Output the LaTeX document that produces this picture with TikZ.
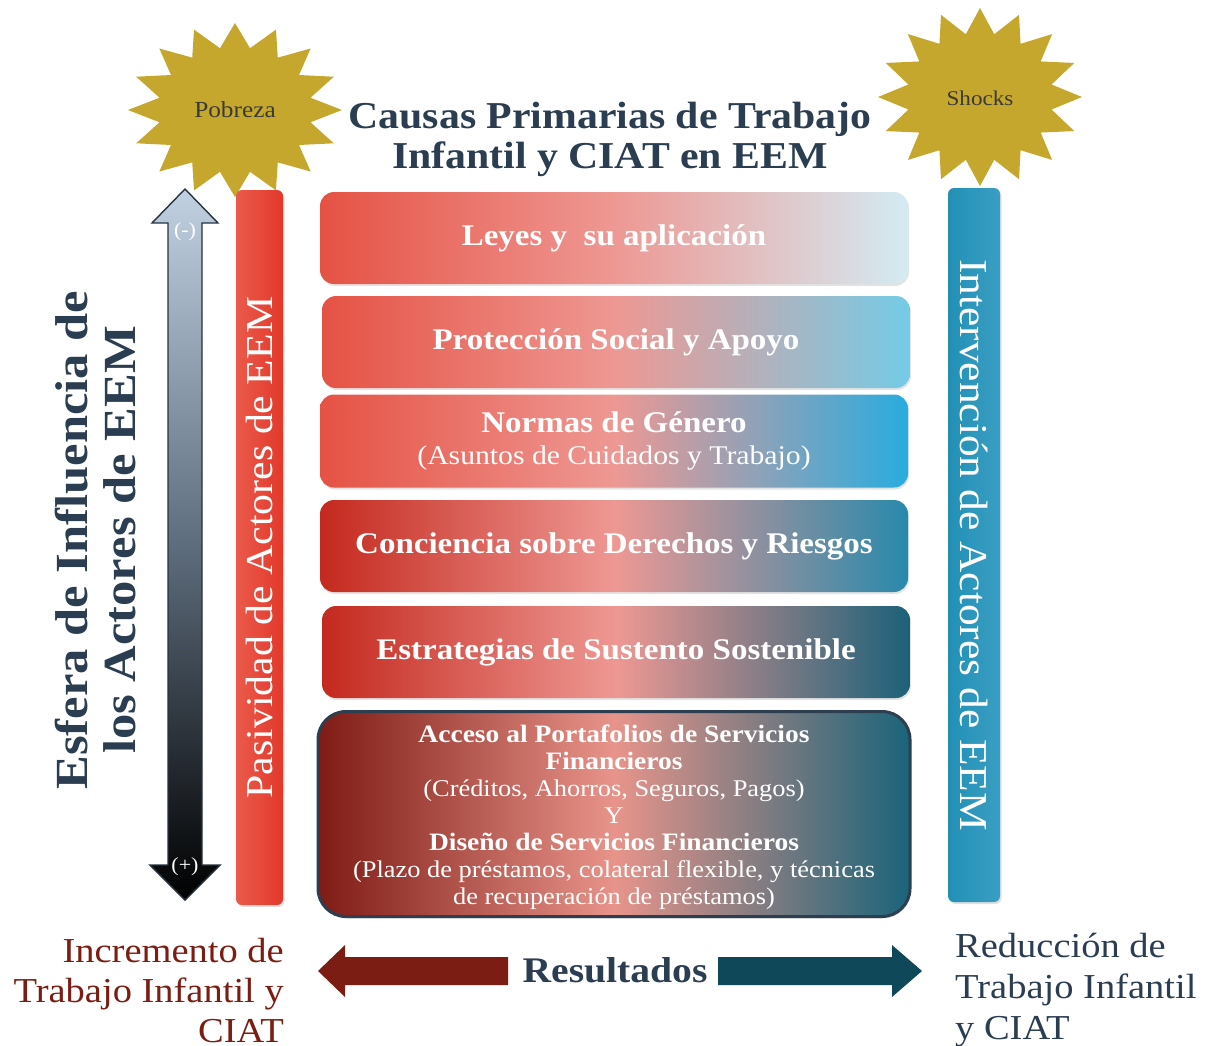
\documentclass[tikz,border=0pt]{standalone}
\usepackage{fontspec}
\setmainfont{Liberation Serif}[FakeStretch=1.1]
\usetikzlibrary{shadows}
\definecolor{gold}{HTML}{C6A72E}
\definecolor{navy}{HTML}{2B3D50}
\definecolor{startxt}{HTML}{3A3A36}
\definecolor{incred}{HTML}{7B1D12}
\definecolor{redtail}{HTML}{7B1D12}
\definecolor{bluetail}{HTML}{0F4858}
\definecolor{redA}{HTML}{E55244}
\definecolor{redB}{HTML}{C4291E}
\definecolor{redC}{HTML}{7E1B14}
\definecolor{pinkM}{HTML}{EE9893}
\definecolor{pinkM6}{HTML}{E8948A}
\definecolor{blue1}{HTML}{D3EBF3}
\definecolor{blue2}{HTML}{74CBE6}
\definecolor{blue3}{HTML}{29ACDF}
\definecolor{blue4}{HTML}{2889AC}
\definecolor{blue5}{HTML}{1C6179}
\definecolor{blue6}{HTML}{1A6479}
\definecolor{boxborder}{HTML}{2C3E50}
\definecolor{barred1}{HTML}{EA5A4B}
\definecolor{barred2}{HTML}{E2392A}
\definecolor{barblue1}{HTML}{2290B6}
\definecolor{barblue2}{HTML}{3A9EC2}
\definecolor{arrtop}{HTML}{C2D1E2}
\definecolor{arrmid}{HTML}{5E6D7D}
\definecolor{arrline}{HTML}{26323E}
\newcommand\myfs[2]{\fontsize{#1}{#2}\selectfont}
\begin{document}
\begin{tikzpicture}[x=1pt,y=-1pt,
  cbox/.style={rounded corners=14pt, minimum width=588pt, minimum height=92pt,
    text=white, align=center, inner sep=0pt,
    drop shadow={opacity=0.22,shadow xshift=1pt,shadow yshift=-2pt}},
  boxbold/.style={font=\myfs{30}{32}\bfseries},
  bar/.style={rounded corners=6pt, inner sep=0pt,
    drop shadow={opacity=0.25,shadow xshift=1.5pt,shadow yshift=-2pt}},
  bartext/.style={text=white, font=\myfs{38}{40}},
  startext/.style={text=startxt},
  sign/.style={text=white, font=\myfs{20}{20}}]
\useasboundingbox (0,0) rectangle (1206,1045);

% stars
\begin{scope}[shift={(235,110)}]
\fill[gold] (90:107 and 87) \foreach \i in {0,...,15} { -- ({101.25+\i*22.5}:77 and 63) -- ({112.5+\i*22.5}:107 and 87) } -- cycle;
\end{scope}
\begin{scope}[shift={(980,97)}]
\fill[gold] (90:102 and 89) \foreach \i in {0,...,15} { -- ({101.25+\i*22.5}:73 and 64) -- ({112.5+\i*22.5}:102 and 89) } -- cycle;
\end{scope}
\node[startext, font=\myfs{23}{25}] (pob) at (235,110) {Pobreza};
\node[startext, font=\myfs{21}{23}] (sho) at (980,98) {Shocks};

% title
\node[text=navy, align=center, font=\myfs{38}{40}\bfseries] (title) at (610,139)
  {Causas Primarias de Trabajo\\Infantil y CIAT en EEM};

% left vertical text
\node[text=navy, align=center, rotate=90, font=\myfs{46}{48}\bfseries] (esfera) at (96,540)
  {Esfera de Influencia de\\los Actores de EEM};

% double arrow
\draw[arrline, line width=1.4pt, top color=arrtop, bottom color=black, middle color=arrmid]
  (185,189) -- (218,223) -- (202,223) -- (202,865) -- (220,865) -- (185,900)
  -- (150,865) -- (168,865) -- (168,223) -- (152,223) -- cycle;
\node[sign] (minus) at (185,232) {(-)};
\node[sign] (plus) at (185,867) {(+)};

% side bars
\node[bar, minimum width=47pt, minimum height=715pt, left color=barred1, right color=barred2] (pas) at (259.5,547.5) {};
\node[bartext, rotate=90] (pastext) at (pas.center) {Pasividad de Actores de EEM};
\node[bar, minimum width=52pt, minimum height=714pt, left color=barblue1, right color=barblue2] (int) at (974,545) {};
\node[bartext, rotate=-90, font=\myfs{39.5}{41}] (inttext) at (int.center) {Intervención de Actores de EEM};

% cause boxes
\node[cbox, boxbold, left color=redA, right color=blue1, middle color=pinkM] (b1) at (614,238) {Leyes y~ su aplicación};
\node[cbox, boxbold, left color=redA, right color=blue2, middle color=pinkM] (b2) at (616,342) {Protección Social y Apoyo};
\node[cbox, left color=redA, right color=blue3, middle color=pinkM, minimum height=93pt, font=\myfs{27}{32}] (b3) at (614,441)
  {{\myfs{30}{32}\bfseries Normas de Género}\\(Asuntos de Cuidados y Trabajo)};
\node[cbox, boxbold, left color=redB, right color=blue4, middle color=pinkM] (b4) at (614,546) {Conciencia sobre Derechos y Riesgos};
\node[cbox, boxbold, left color=redB, right color=blue5, middle color=pinkM] (b5) at (616,652) {Estrategias de Sustento Sostenible};
\node[cbox, rounded corners=28pt, minimum width=592pt, minimum height=205pt, draw=boxborder, line width=3pt,
  left color=redC, right color=blue6, middle color=pinkM6] (b6) at (614,814) {};
\node[text=white, align=center, inner sep=0pt, font=\myfs{24}{27}] (b6text) at (614,817)
  {{\bfseries\myfs{25}{27}Acceso al Portafolios de Servicios}\\
   {\bfseries\myfs{25}{27}Financieros}\\
   (Créditos, Ahorros, Seguros, Pagos)\\
   Y\\
   {\bfseries\myfs{25}{27}Diseño de Servicios Financieros}\\
   (Plazo de préstamos, colateral flexible, y técnicas\\
   de recuperación de préstamos)};

% bottom
\fill[redtail] (318,971) -- (345,945) -- (345,957) -- (508,957) -- (508,985) -- (345,985) -- (345,997) -- cycle;
\fill[bluetail] (718,957) -- (892,957) -- (892,945) -- (922,971) -- (892,997) -- (892,985) -- (718,985) -- cycle;
\node[text=navy, font=\myfs{36}{38}\bfseries] (res) at (615,970) {Resultados};
\node[text=incred, align=right, anchor=north east, inner sep=0pt, font=\myfs{35}{40}] (inc) at (284,938)
  {Incremento de\\Trabajo Infantil y\\CIAT};
\node[text=navy, align=left, anchor=north west, inner sep=0pt, font=\myfs{35}{41}] (red) at (955,933)
  {Reducción de\\Trabajo Infantil\\y CIAT};
\end{tikzpicture}
\end{document}
